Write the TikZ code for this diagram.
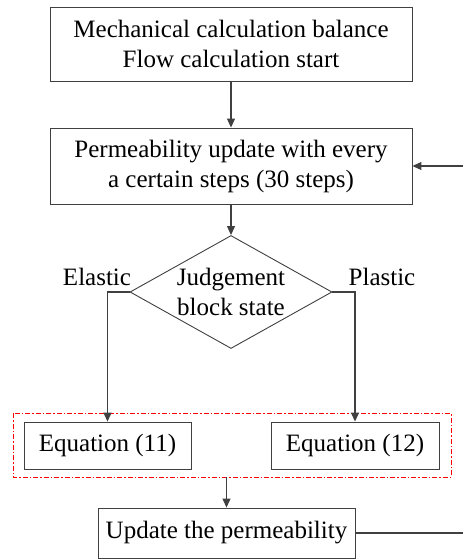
\documentclass[tikz,border=0pt]{standalone}
\usepackage{fontspec}
\setmainfont{Liberation Serif}
\usetikzlibrary{shapes.geometric,arrows.meta}
\definecolor{ln}{HTML}{404040}
\begin{document}
\begin{tikzpicture}[x=1pt,y=-1pt,
  box/.style={draw=ln,line width=0.9pt,fill=white,inner sep=0pt,align=center,font=\fontsize{25}{30}\selectfont},
  lbl/.style={font=\fontsize{25}{30}\selectfont,inner sep=0pt,align=center},
  conn/.style={draw=ln,line width=1.1pt},
  arr/.style={conn,-{Triangle[length=9pt,width=8pt]}}]
\useasboundingbox (0,0) rectangle (463,559);
\node[box,minimum width=362pt,minimum height=74pt] (b1) at (231,44) {Mechanical calculation balance\\Flow calculation start};
\node[box,minimum width=362pt,minimum height=76pt] (b2) at (231,166) {Permeability update with every\\a certain steps (30 steps)};
\node[box,diamond,minimum width=202pt,minimum height=113pt] (d) at (231,292) {};
\node[lbl] (dt) at (231,292) {Judgement\\block state};
\node[box,minimum width=167pt,minimum height=47pt] (e11) at (107.5,445.5) {Equation (11)};
\node[box,minimum width=168pt,minimum height=47pt] (e12) at (355,445.5) {Equation (12)};
\draw[red,line width=1pt,dash pattern=on 5pt off 2pt on 1.5pt off 2pt] (13,413) rectangle (451,477);
\coordinate (grpS) at (226.5,477);
\node[box,minimum width=257pt,minimum height=50pt] (upd) at (226.5,533) {Update the permeability};
\node[lbl] (el) at (97,277) {Elastic};
\node[lbl] (pl) at (382,277) {Plastic};
\coordinate (fin) at (463,166);
\coordinate (fout) at (463,533);
\draw[arr] (b1.south) -- (b2.north);
\draw[arr] (b2.south) -- (d.north);
\draw[arr] (d.west) -| (e11.north);
\draw[arr] (d.east) -| (e12.north);
\draw[arr] (grpS) -- (upd.north);
\draw[conn] (upd.east) -- (fout);
\draw[arr] (fin) -- (b2.east);
\end{tikzpicture}
\end{document}
